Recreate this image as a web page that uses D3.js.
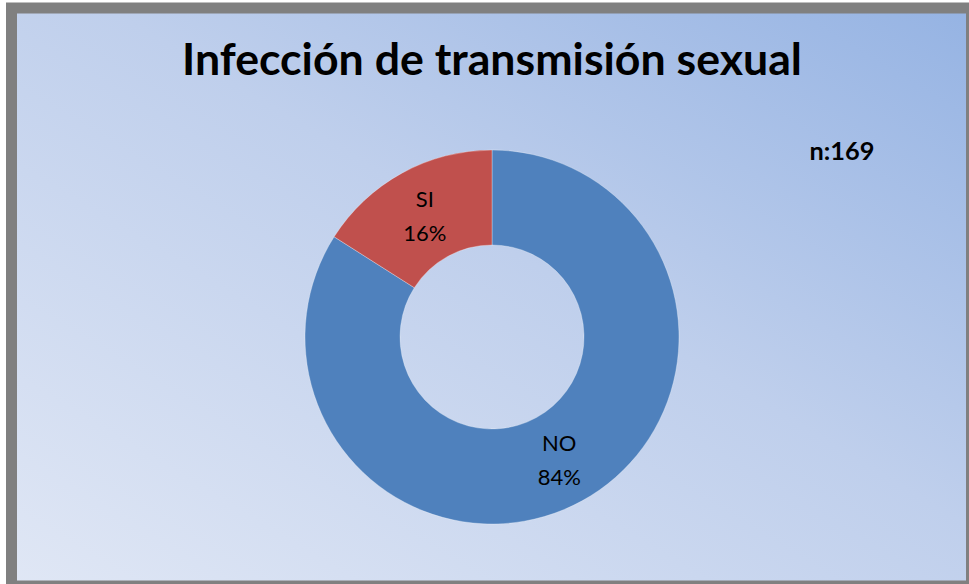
<!DOCTYPE html>
<html><head><meta charset="utf-8">
<script src="https://cdn.jsdelivr.net/npm/d3@7"></script>
<style>body{margin:0;background:#fff;}svg{display:block;}</style>
</head><body>
<svg id="c" width="969" height="584"></svg>
<script>
const categories = ["NO", "SI"];
const values = [84, 16];
const title = "Infección de transmisión sexual";
const note = "n:169";
const colors = ["#4f81bd", "#c0504d"];

const svg = d3.select("#c");
const defs = svg.append("defs");
const g = defs.append("linearGradient").attr("id","bg")
  .attr("x1","0%").attr("y1","100%").attr("x2","100%").attr("y2","0%");
g.append("stop").attr("offset","0%").attr("stop-color","#e0e7f5");
g.append("stop").attr("offset","55%").attr("stop-color","#bfcfec");
g.append("stop").attr("offset","100%").attr("stop-color","#95b3e3");

svg.append("rect").attr("x",11.5).attr("y",8).attr("width",960).attr("height",578)
  .attr("fill","url(#bg)").attr("stroke","#808080").attr("stroke-width",11);

const font = "Lato, 'Open Sans', sans-serif";
const t = svg.append("text").attr("x",492).attr("y",75).attr("text-anchor","middle")
  .attr("font-family",font).attr("font-weight","bold").attr("font-size",40).attr("fill","#000").text(title);
const w = t.node().getComputedTextLength();
t.attr("font-size", 40*620/w);

const n = svg.append("text").attr("x",842).attr("y",160).attr("text-anchor","middle")
  .attr("font-family",font).attr("font-weight","bold").attr("font-size",22).text(note);
const nw = n.node().getComputedTextLength();
n.attr("font-size", 22*65/nw);

const data = categories.map((c,i)=>({cat:c,val:values[i],color:colors[i]}));
const pie = d3.pie().value(d=>d.val).sort(null);
const arc = d3.arc().innerRadius(92).outerRadius(187);
const cg = svg.append("g").attr("transform","translate(492,337)");
const arcs = pie(data);
cg.selectAll("path").data(arcs).join("path").attr("d",arc).attr("fill",d=>d.data.color)
  .attr("stroke","#ffffff").attr("stroke-opacity",0.4).attr("stroke-width",0.75);
const tot = d3.sum(values);
const lab = cg.selectAll("text").data(arcs).join("text")
  .attr("transform",d=>`translate(${arc.centroid(d)})`)
  .attr("text-anchor","middle").attr("font-family",font).attr("font-size",22).attr("fill","#000");
lab.append("tspan").attr("x",0).attr("dy",-8).text(d=>d.data.cat);
lab.append("tspan").attr("x",0).attr("dy",34).text(d=>Math.round(d.data.val/tot*100)+"%");
</script>
</body></html>
